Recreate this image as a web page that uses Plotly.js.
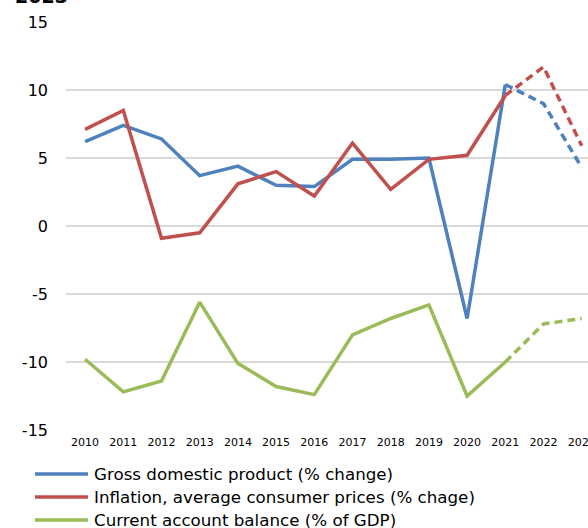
<!DOCTYPE html>
<html>
<head>
<meta charset="utf-8">
<script src="https://cdn.plot.ly/plotly-3.0.1.min.js"></script>
<style>
html, body { margin: 0; padding: 0; overflow: hidden; background: #fff; }
#chart { width: 588px; height: 528px; }
</style>
</head>
<body>
<div id="chart"></div>
<script>
const years = ['2010','2011','2012','2013','2014','2015','2016','2017','2018','2019','2020','2021','2022','2023'];
const gdp = [6.2, 7.4, 6.4, 3.7, 4.4, 3.0, 2.9, 4.9, 4.9, 5.0, -6.8, 10.4, 9.0, 4.3];
const inflation = [7.1, 8.5, -0.9, -0.5, 3.1, 4.0, 2.2, 6.1, 2.7, 4.9, 5.2, 9.6, 11.7, 5.9];
const currentAccount = [-9.8, -12.2, -11.4, -5.6, -10.1, -11.8, -12.4, -8.0, -6.8, -5.8, -12.5, -10.0, -7.2, -6.8];
const seriesNames = ['Gross domestic product (% change)', 'Inflation, average consumer prices (% chage)', 'Current account balance (% of GDP)'];
const seriesColors = ['#4F81BD', '#C0504D', '#9BBB59'];
const yTickVals = [-15, -10, -5, 0, 5, 10, 15];
const yTickText = ['-15', '-10', '-5', '0', '5', '10', '15'];
const forecastStart = 11; // index of 2021

const allSeries = [gdp, inflation, currentAccount];
const traces = [];
allSeries.forEach((vals, i) => {
  traces.push({
    type: 'scatter', mode: 'lines',
    x: years.slice(0, forecastStart + 1), y: vals.slice(0, forecastStart + 1),
    name: seriesNames[i], showlegend: false,
    line: { color: seriesColors[i], width: 3.5 },
    hoverinfo: 'skip'
  });
  traces.push({
    type: 'scatter', mode: 'lines',
    x: years.slice(forecastStart), y: vals.slice(forecastStart),
    name: seriesNames[i] + ' (forecast)', showlegend: false,
    line: { color: seriesColors[i], width: 3.5, dash: '8px,5px' },
    hoverinfo: 'skip'
  });
});

// manual legend (pixel placement converted to paper coordinates)
const W = 588, H = 528, mL = 66, mR = 0, mT = 22, mB = 98;
const pw = W - mL - mR, ph = H - mT - mB;
const px = v => (v - mL) / pw;
const py = v => (H - mB - v) / ph;
const legendRows = [474, 497, 520];
const shapes = [], annotations = [];
seriesNames.forEach((name, i) => {
  shapes.push({
    type: 'line', xref: 'paper', yref: 'paper',
    x0: px(35), x1: px(88), y0: py(legendRows[i]), y1: py(legendRows[i]),
    line: { color: seriesColors[i], width: 3.5 }
  });
  annotations.push({
    text: name, xref: 'paper', yref: 'paper',
    x: px(92), xanchor: 'left', y: py(legendRows[i]), yanchor: 'middle',
    showarrow: false, font: { size: 16.7, color: '#000' }
  });
});
annotations.push({
  text: '<b>2023</b>', xref: 'paper', yref: 'paper',
  x: px(13), xanchor: 'left', y: py(9), yanchor: 'bottom',
  showarrow: false, font: { size: 19, color: '#000' }
});

const layout = {
  width: W, height: H,
  margin: { l: mL, r: mR, t: mT, b: mB },
  paper_bgcolor: '#fff', plot_bgcolor: '#fff',
  font: { family: '"DejaVu Sans", sans-serif', color: '#000' },
  showlegend: false,
  xaxis: {
    type: 'category', range: [-0.5, 13.165],
    showgrid: false, zeroline: false, showline: false, ticks: '',
    tickfont: { size: 11, color: '#000' }, tickangle: 0, ticklabelstandoff: 4
  },
  yaxis: {
    range: [-15, 15], tickmode: 'array', tickvals: yTickVals, ticktext: yTickText,
    showgrid: true, gridcolor: '#d9d9d9', gridwidth: 1.5,
    zeroline: false, showline: false, ticks: '',
    tickfont: { size: 16, color: '#000' }, ticklabelstandoff: 17
  },
  shapes: shapes,
  annotations: annotations
};

Plotly.newPlot('chart', traces, layout, { staticPlot: true, displayModeBar: false });
</script>
</body>
</html>
